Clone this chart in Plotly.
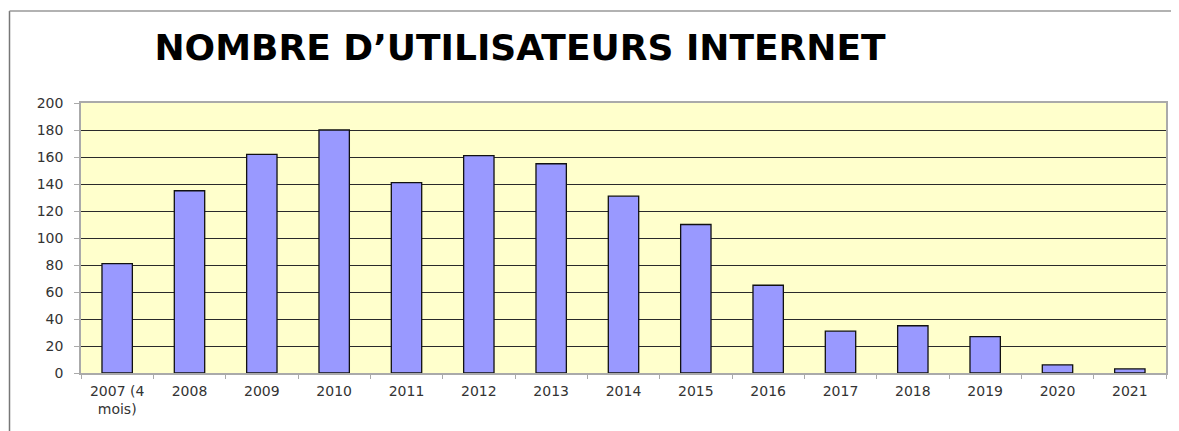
import plotly.graph_objects as go

categories = ["2007 (4<br>mois)", "2008", "2009", "2010", "2011", "2012", "2013", "2014",
              "2015", "2016", "2017", "2018", "2019", "2020", "2021"]
values = [81, 135, 162, 180, 141, 161, 155, 131, 110, 65, 31, 35, 27, 6, 3]
y_ticks = [0, 20, 40, 60, 80, 100, 120, 140, 160, 180, 200]
title_text = "NOMBRE D’UTILISATEURS INTERNET"

# page body has an 8px margin: work in screenshot coordinates and compensate
OFF = 8
W, H = 1179 - OFF, 431 - OFF
L, R, T, B = 81 - OFF, 13, 103 - OFF, 431 - 373
pw, ph = W - L - R, H - T - B

def px_x(px):
    return (px - OFF - L) / pw

def px_y(py):
    return (H - B - (py - OFF)) / ph

fig = go.Figure(go.Bar(
    x=categories, y=values,
    marker=dict(color="#9999FF", line=dict(color="#111111", width=1.3)),
))

fig.update_layout(
    width=W, height=H,
    margin=dict(l=L, r=R, t=T, b=B),
    paper_bgcolor="white",
    plot_bgcolor="#FFFFCC",
    bargap=0.58,
    showlegend=False,
    title=dict(text="<b>" + title_text + "</b>", x=(520 - OFF) / W, xanchor="center",
               y=1 - (60 - OFF) / H, yanchor="bottom",
               font=dict(family="DejaVu Sans", size=36, color="#000000")),
    font=dict(family="DejaVu Sans", size=14, color="#333333"),
    shapes=[
        dict(type="line", xref="paper", yref="paper", x0=px_x(9.5), x1=px_x(9.5),
             y0=px_y(11), y1=px_y(440), line=dict(color="#777777", width=1.5)),
        dict(type="line", xref="paper", yref="paper", x0=px_x(9.5), x1=px_x(1190),
             y0=px_y(11), y1=px_y(11), line=dict(color="#999999", width=1.5)),
    ],
)

fig.update_xaxes(
    type="category", showgrid=False, tickson="boundaries",
    ticks="outside", ticklen=4, tickcolor="#AAAAAA",
    showline=True, linecolor="#AAAAAA", linewidth=1.5, mirror=True,
    tickfont=dict(family="DejaVu Sans", size=14, color="#333333"),
    ticklabelstandoff=4,
)
fig.update_yaxes(
    range=[0, 200], tickvals=y_ticks, showgrid=True,
    gridcolor="#2a2a2a", gridwidth=1.3,
    ticks="outside", ticklen=5, tickcolor="#AAAAAA",
    showline=True, linecolor="#AAAAAA", linewidth=1.5, mirror=True,
    tickfont=dict(family="DejaVu Sans", size=14, color="#333333"),
    ticklabelstandoff=8, zeroline=False,
)

fig.write_html("out.html")
